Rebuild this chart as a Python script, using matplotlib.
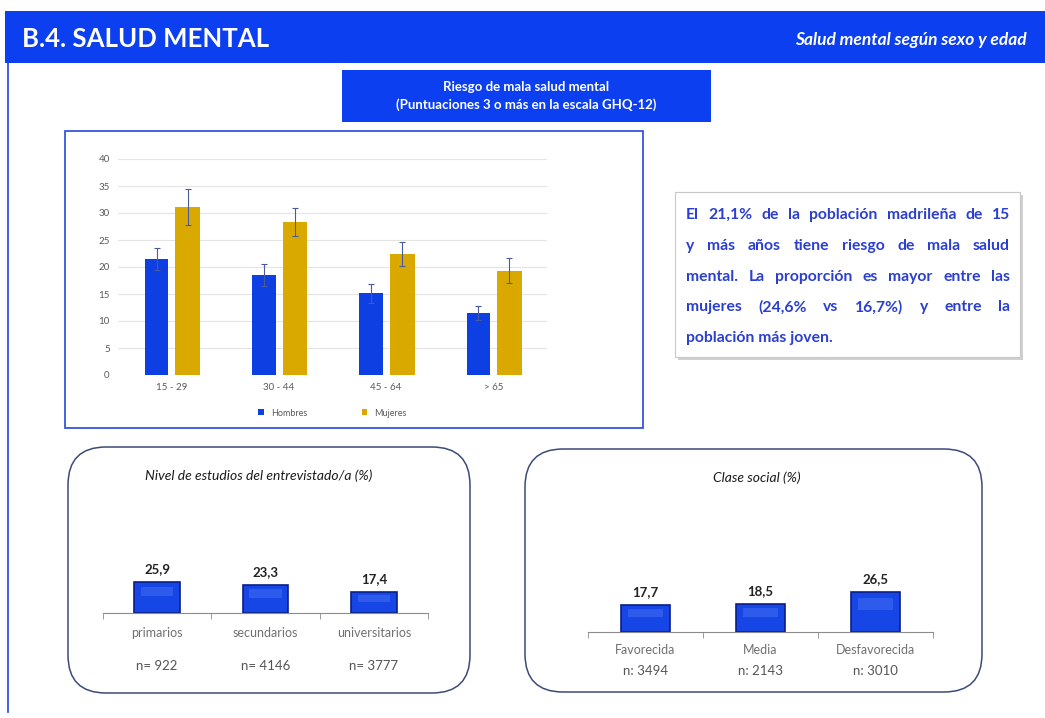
import numpy as np
import matplotlib.pyplot as plt
from matplotlib.patches import Rectangle, FancyBboxPatch

plt.rcParams['font.family'] = ['Lato', 'DejaVu Sans']

# datos
edades = ["15 - 29", "30 - 44", "45 - 64", "> 65"]
hombres = [21.5, 18.5, 15.1, 11.5]
mujeres = [31.1, 28.4, 22.4, 19.3]
err_hombres = [2.1, 2.1, 1.7, 1.3]
err_mujeres = [3.4, 2.6, 2.2, 2.3]

estudios = ["primarios", "secundarios", "universitarios"]
estudios_val = [25.9, 23.3, 17.4]
estudios_n = ["n= 922", "n= 4146", "n= 3777"]

clase = ["Favorecida", "Media", "Desfavorecida"]
clase_val = [17.7, 18.5, 26.5]
clase_n = ["n: 3494", "n: 2143", "n: 3010"]

texto = [
    "El 21,1% de la población madrileña de 15",
    "y más años tiene riesgo de mala salud",
    "mental. La proporción es mayor entre las",
    "mujeres (24,6% vs 16,7%) y entre la",
    "población más joven.",
]

W, H = 1045, 718
AZUL = "#0B3FF0"
AZUL_BARRA = "#0E3FE3"
ORO = "#DAA900"


def frac(x0, y0, x1, y1):
    return [x0 / W, 1 - y1 / H, (x1 - x0) / W, (y1 - y0) / H]


def coma(v):
    return f"{v:.1f}".replace(".", ",")


fig = plt.figure(figsize=(W / 100, H / 100), dpi=100)
fig.patch.set_facecolor("white")

# capa de fondo en pixeles
bg = fig.add_axes([0, 0, 1, 1])
bg.set_xlim(0, W)
bg.set_ylim(H, 0)
bg.axis("off")

bg.add_patch(Rectangle((5, 11), W - 5, 52, facecolor=AZUL, edgecolor="none"))
bg.plot([8, 8], [63, 712], color="#2244dd", lw=1.2)
bg.text(22, 39, "B.4. SALUD MENTAL", color="white", fontsize=18.5,
        fontweight="bold", va="center", ha="left")
bg.text(1027, 40, "Salud mental según sexo y edad", color="white",
        fontsize=12.5, fontweight="bold", fontstyle="italic", va="center",
        ha="right")

bg.add_patch(Rectangle((342, 70), 369, 52, facecolor=AZUL, edgecolor="none"))
bg.text(526, 87, "Riesgo de mala salud mental", color="white", fontsize=9.5,
        fontweight="bold", ha="center", va="center")
bg.text(526, 105, "(Puntuaciones 3 o más en la escala GHQ-12)", color="white",
        fontsize=9.5, fontweight="bold", ha="center", va="center")

bg.add_patch(Rectangle((65, 131), 578, 297, facecolor="none",
                       edgecolor="#3357dd", lw=1.3))

# caja de texto
bg.add_patch(Rectangle((678, 195), 345, 165, facecolor="#d0d0d0",
                       edgecolor="none"))
bg.add_patch(Rectangle((675, 192), 345, 165, facecolor="white",
                       edgecolor="#c8c8c8", lw=0.8))
renderer = fig.canvas.get_renderer()
x_ini, x_fin = 686, 1010
ys = [215, 246, 277, 307, 338]
for k, (linea, y) in enumerate(zip(texto, ys)):
    kw = dict(color="#2b3fd0", fontsize=11.3, fontweight="bold",
              va="center", ha="left")
    if k == len(texto) - 1:
        bg.text(x_ini, y, linea, **kw)
        continue
    palabras = linea.split()
    objs = [bg.text(0, y, p, **kw) for p in palabras]
    anchos = [o.get_window_extent(renderer).width for o in objs]
    hueco = (x_fin - x_ini - sum(anchos)) / (len(palabras) - 1)
    x = x_ini
    for o, a in zip(objs, anchos):
        o.set_x(x)
        x += a + hueco

# cajas redondeadas
bg.add_patch(FancyBboxPatch((68, 447), 402, 246,
                            boxstyle="round,pad=0,rounding_size=38",
                            facecolor="white", edgecolor="#3d4a78", lw=1.1))
bg.add_patch(FancyBboxPatch((525, 449), 457, 243,
                            boxstyle="round,pad=0,rounding_size=38",
                            facecolor="white", edgecolor="#3d4a78", lw=1.1))
bg.text(259, 476, "Nivel de estudios del entrevistado/a (%)", fontsize=10,
        fontstyle="italic", color="#1a1a1a", ha="center", va="center")
bg.text(757, 478, "Clase social (%)", fontsize=10, fontstyle="italic",
        color="#1a1a1a", ha="center", va="center")

# grafico principal
ax = fig.add_axes(frac(118, 159, 547, 375))
ax.set_facecolor("none")
x = np.arange(len(edades))
ek = dict(ecolor="#4a5a9a", elinewidth=0.8, capsize=2.5, capthick=0.8)
ax.bar(x - 0.14, hombres, 0.22, color=AZUL_BARRA, yerr=err_hombres,
       error_kw=ek, label="Hombres", zorder=2)
ax.bar(x + 0.15, mujeres, 0.23, color=ORO, yerr=err_mujeres,
       error_kw=ek, label="Mujeres", zorder=2)
ax.set_xlim(-0.5, 3.5)
ax.set_ylim(0, 40)
ax.set_yticks(range(0, 41, 5))
ax.set_xticks(x)
ax.set_xticklabels(edades)
ax.grid(axis="y", color="#e4e4e4", lw=0.8, zorder=0)
for s in ax.spines.values():
    s.set_visible(False)
ax.tick_params(length=0, labelsize=7, labelcolor="#595959")
ax.tick_params(axis="x", pad=6)
ax.tick_params(axis="y", pad=6)
ax.legend(ncol=2, loc="center", bbox_to_anchor=(0.5, -0.176),
          frameon=False, fontsize=6.5, handlelength=0.6, handleheight=0.6,
          columnspacing=6, labelcolor="#595959")


def mini(rect, cats, vals, ns, ymax, lab_pad, n_off):
    a = fig.add_axes(rect)
    a.set_facecolor("none")
    xs = np.arange(len(cats))
    v = np.array(vals)
    a.bar(xs, v, 0.42, color="#1746e6", edgecolor="#0a1f86", lw=1.2,
          zorder=2)
    a.bar(xs, v * 0.3, 0.3, bottom=v * 0.55, color="#5a84f8", alpha=0.35,
          lw=0, zorder=3)
    a.set_xlim(-0.5, 2.5)
    a.set_ylim(0, ymax)
    for s in ["top", "left", "right"]:
        a.spines[s].set_visible(False)
    a.spines["bottom"].set_color("#8c8c8c")
    a.set_yticks([])
    a.set_xticks(xs)
    a.set_xticklabels(cats)
    a.set_xticks([-0.5, 0.5, 1.5, 2.5], minor=True)
    a.tick_params(axis="x", which="major", length=0, pad=lab_pad,
                  labelsize=9, labelcolor="#707070")
    a.tick_params(axis="x", which="minor", length=4, color="#8c8c8c")
    for xi, vi, n in zip(xs, vals, ns):
        a.annotate(coma(vi), (xi, vi), xytext=(0, 5),
                   textcoords="offset points", ha="center", va="bottom",
                   fontsize=9.5, fontweight="bold", color="#222222")
        a.annotate(n, (xi, 0), xytext=(0, -n_off), textcoords="offset points",
                   ha="center", va="center", fontsize=9.5, color="#555555")
    return a


mini(frac(103, 493, 428, 613), estudios, estudios_val, estudios_n, 100, 10, 38)
mini(frac(588, 512, 933, 632), clase, clase_val, clase_n, 80, 9, 28)

plt.savefig("out.png", dpi=100)
